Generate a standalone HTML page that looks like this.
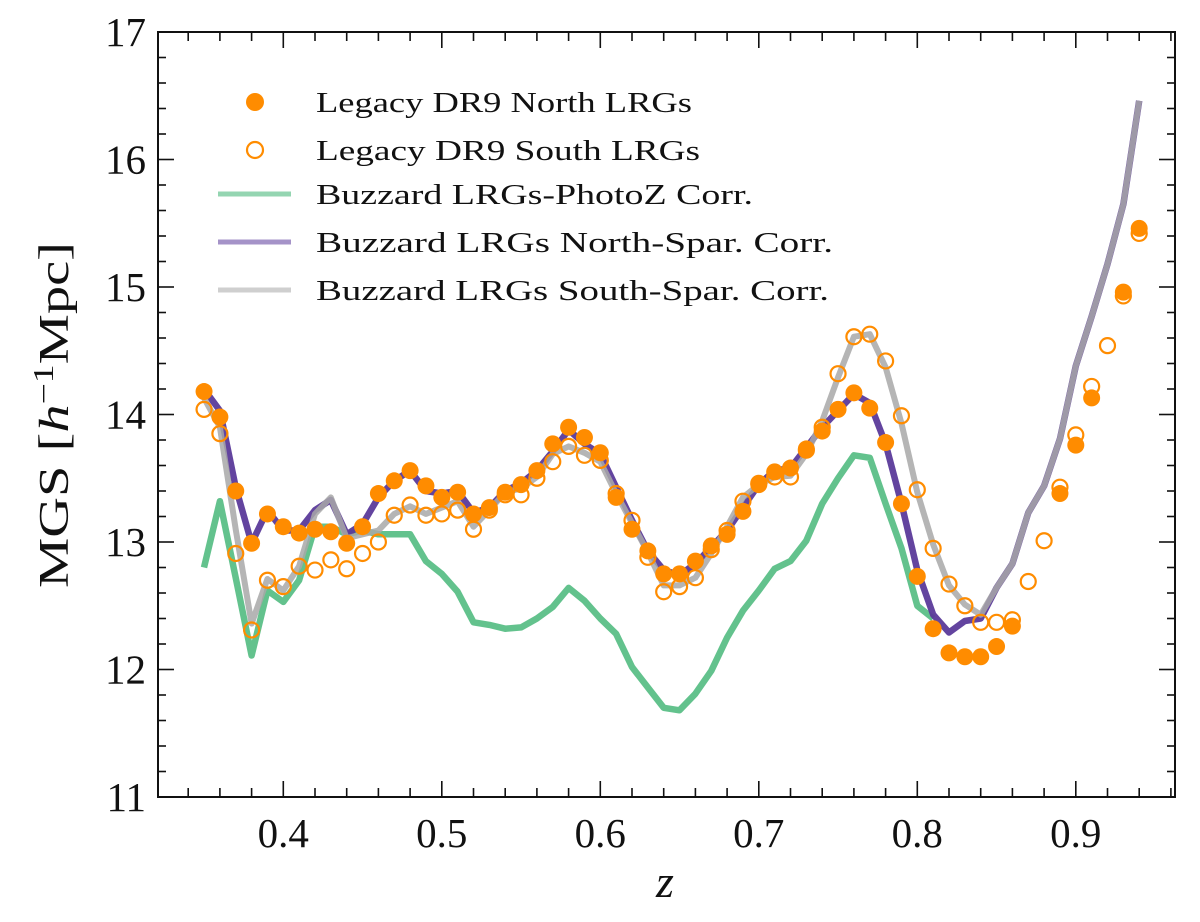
<!DOCTYPE html>
<html><head><meta charset="utf-8"><style>
html,body{margin:0;padding:0;background:#fff;}
svg{display:block;font-family:"Liberation Serif",serif;}
</style></head><body>
<svg id="chart" width="1200" height="922" viewBox="0 0 1200 922" xmlns="http://www.w3.org/2000/svg">
<g id="plot"></g>
<g id="axes"></g>
</svg>
<script>
const zValues=[0.35,0.36,0.37,0.38,0.39,0.40,0.41,0.42,0.43,0.44,0.45,0.46,0.47,0.48,0.49,0.50,0.51,0.52,0.53,0.54,0.55,0.56,0.57,0.58,0.59,0.60,0.61,0.62,0.63,0.64,0.65,0.66,0.67,0.68,0.69,0.70,0.71,0.72,0.73,0.74,0.75,0.76,0.77,0.78,0.79,0.80,0.81,0.82,0.83,0.84,0.85,0.86,0.87,0.88,0.89,0.90,0.91,0.92,0.93,0.94];
const northDots=[14.18,13.98,13.40,12.99,13.22,13.12,13.07,13.10,13.08,12.99,13.12,13.38,13.48,13.56,13.44,13.35,13.39,13.22,13.27,13.39,13.45,13.56,13.77,13.90,13.82,13.70,13.35,13.10,12.93,12.75,12.75,12.85,12.97,13.06,13.24,13.45,13.55,13.58,13.73,13.87,14.04,14.17,14.05,13.78,13.30,12.73,12.32,12.13,12.10,12.10,12.18,12.34,null,null,13.38,13.76,14.13,null,14.96,15.46];
const southDots=[14.04,13.85,12.91,12.31,12.70,12.65,12.81,12.78,12.86,12.79,12.91,13.00,13.21,13.29,13.21,13.22,13.25,13.10,13.25,13.37,13.37,13.50,13.63,13.75,13.68,13.64,13.38,13.17,12.88,12.61,12.65,12.72,12.94,13.09,13.32,13.46,13.51,13.51,13.72,13.90,14.32,14.61,14.63,14.42,13.99,13.41,12.95,12.67,12.50,12.37,12.37,12.39,12.69,13.01,13.43,13.84,14.22,14.54,14.93,15.42];
const photozLine=[12.80,13.32,12.72,12.11,12.62,12.53,12.70,13.12,13.12,13.06,13.09,13.06,13.06,13.06,12.85,12.75,12.61,12.37,12.35,12.32,12.33,12.40,12.49,12.64,12.54,12.40,12.28,12.02,11.86,11.70,11.68,11.81,11.99,12.25,12.46,12.62,12.79,12.85,13.01,13.30,13.50,13.68,13.66,13.30,12.95,12.50,12.40];
const northLine=[14.20,14.03,13.43,12.99,13.25,13.09,13.09,13.25,13.33,13.06,13.14,13.35,13.48,13.56,13.40,13.38,13.40,13.23,13.27,13.40,13.46,13.56,13.71,13.88,13.77,13.69,13.43,13.17,12.93,12.78,12.74,12.83,12.96,13.09,13.27,13.45,13.56,13.58,13.74,13.90,14.03,14.16,14.09,13.77,13.30,12.78,12.43,12.29,12.38,12.40,12.64,12.83,13.23,13.44,13.81,14.38,14.77,15.18,15.65,16.46];
const southLine=[14.13,13.90,13.10,12.36,12.71,12.62,12.81,13.22,13.35,13.03,13.06,13.09,13.22,13.28,13.22,13.27,13.32,13.12,13.25,13.39,13.42,13.51,13.69,13.75,13.70,13.63,13.38,13.15,12.92,12.66,12.66,12.72,12.91,13.12,13.35,13.45,13.51,13.52,13.69,13.95,14.29,14.61,14.63,14.37,13.93,13.39,12.98,12.66,12.51,12.43,12.64,12.83,13.23,13.44,13.81,14.38,14.77,15.18,15.65,16.46];
const xTicks=[0.4,0.5,0.6,0.7,0.8,0.9];
const xTickLabels=["0.4","0.5","0.6","0.7","0.8","0.9"];
const yTicks=[11,12,13,14,15,16,17];
const yTickLabels=["11","12","13","14","15","16","17"];

const L=158,R=1175,T=32,B=797;
const X0=0.4,XPX=283.3,XSCALE=1585;
function xs(z){return XPX+(z-X0)*XSCALE;}
function ys(v){return B-(v-11)*(B-T)/6;}
const NS="http://www.w3.org/2000/svg";
function mk(tag,attrs,parent){const e=document.createElementNS(NS,tag);for(const k in attrs)e.setAttribute(k,attrs[k]);parent.appendChild(e);return e;}
const plot=document.getElementById('plot'),axes=document.getElementById('axes');

function drawLine(vals,color,w,op,name){
  let d="";
  vals.forEach((v,i)=>{if(v==null)return;d+=(d?"L":"M")+xs(zValues[i]).toFixed(1)+","+ys(v).toFixed(1);});
  const p=mk('path',{d:d,fill:'none',stroke:color,'stroke-width':w,'stroke-opacity':op,'stroke-linejoin':'round'},plot);
  
  
}
drawLine(photozLine,'#3cb371',6.5,0.8,'photoz-corr-line');
drawLine(northLine,'#5b3a9a',6.5,0.95,'north-spar-corr-line');
drawLine(southLine,'#a8a8a8',6,0.85,'south-spar-corr-line');

northDots.forEach((v,i)=>{if(v==null)return;
  const c=mk('circle',{cx:xs(zValues[i]),cy:ys(v),r:8.5,fill:'#ff8c00'},plot);
  
  
});
southDots.forEach((v,i)=>{if(v==null)return;
  const c=mk('circle',{cx:xs(zValues[i]),cy:ys(v),r:7.5,fill:'none',stroke:'#ff8c00','stroke-width':2.2},plot);
  
  
});

const fr=mk('rect',{x:L,y:T,width:R-L,height:B-T,fill:'none',stroke:'#111','stroke-width':2},axes);


for(let k=16;k<=48;k++){const z=k/50;const x=xs(z);if(x<L||x>R)continue;
  const major=(k%5===0);const len=major?16:9;
  mk('line',{x1:x,x2:x,y1:B,y2:B-len,stroke:'#111','stroke-width':1.6},axes);
  mk('line',{x1:x,x2:x,y1:T,y2:T+len,stroke:'#111','stroke-width':1.6},axes);}
xTicks.forEach((z,i)=>{const t=mk('text',{x:xs(z),y:847,'text-anchor':'middle','font-size':41,fill:'#111'},axes);t.textContent=xTickLabels[i];
  
  });
for(let k=55;k<=85;k++){const v=k/5;const y=ys(v);const major=(k%5===0);const len=major?16:8;
  mk('line',{x1:L,x2:L+len,y1:y,y2:y,stroke:'#111','stroke-width':1.6},axes);
  mk('line',{x1:R,x2:R-len,y1:y,y2:y,stroke:'#111','stroke-width':1.6},axes);}
yTicks.forEach((v,i)=>{const t=mk('text',{x:146,y:ys(v)+14,'text-anchor':'end','font-size':41,fill:'#111'},axes);t.textContent=yTickLabels[i];
  
  });
</script>
<svg style="position:absolute;left:0;top:0" width="1200" height="922" xmlns="http://www.w3.org/2000/svg" font-family="Liberation Serif, serif">
<text transform="translate(68,415) rotate(-90)" text-anchor="middle" font-size="42" fill="#111" textLength="346" lengthAdjust="spacingAndGlyphs">MGS [<tspan font-style="italic">h</tspan><tspan font-size="28" dy="-15">−1</tspan><tspan dy="15">Mpc]</tspan></text>
<text x="665" y="897" text-anchor="middle" font-size="46" font-style="italic" fill="#111">z</text>
<g font-size="28" fill="#111">
<circle cx="255" cy="102" r="9" fill="#ff8c00"/>
<text x="316" y="112" textLength="376" lengthAdjust="spacingAndGlyphs">Legacy DR9 North LRGs</text>
<circle cx="255" cy="150" r="8" fill="none" stroke="#ff8c00" stroke-width="2.2"/>
<text x="316" y="160" textLength="384" lengthAdjust="spacingAndGlyphs">Legacy DR9 South LRGs</text>
<line x1="218" x2="291" y1="194" y2="194" stroke="#3cb371" stroke-opacity="0.55" stroke-width="5"/>
<text x="316" y="204" textLength="437" lengthAdjust="spacingAndGlyphs">Buzzard LRGs-PhotoZ Corr.</text>
<line x1="218" x2="291" y1="242" y2="242" stroke="#5b3a9a" stroke-opacity="0.55" stroke-width="5"/>
<text x="316" y="252" textLength="517" lengthAdjust="spacingAndGlyphs">Buzzard LRGs North-Spar. Corr.</text>
<line x1="218" x2="291" y1="290" y2="290" stroke="#a8a8a8" stroke-opacity="0.55" stroke-width="5"/>
<text x="316" y="300" textLength="513" lengthAdjust="spacingAndGlyphs">Buzzard LRGs South-Spar. Corr.</text>
</g>
</svg>
</body></html>
